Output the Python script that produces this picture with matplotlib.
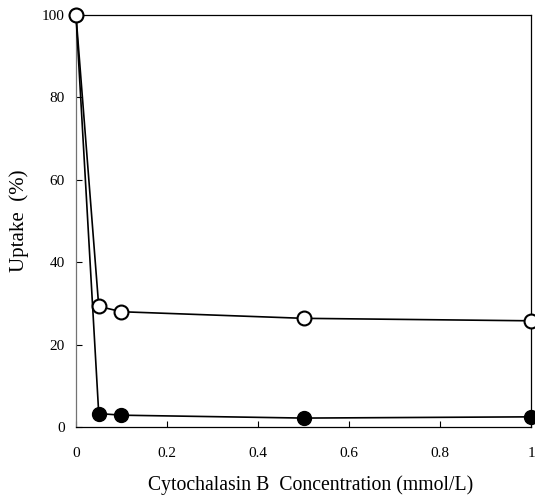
import numpy as np
import matplotlib.pyplot as plt

# === Data ===
conc = [0, 0.05, 0.1, 0.5, 1.0]          # mmol/L
uptake_open = [100, 29.3, 28.0, 26.4, 25.8]
uptake_filled = [100, 3.3, 2.9, 2.2, 2.5]

x_ticks = [0, 0.2, 0.4, 0.6, 0.8, 1]
x_ticklabels = ["0", "0.2", "0.4", "0.6", "0.8", "1"]
y_ticks = [0, 20, 40, 60, 80, 100]

plt.rcParams['font.family'] = ['Liberation Serif', 'DejaVu Serif']

fig = plt.figure(figsize=(5.35, 4.99), dpi=100)
ax = fig.add_axes([0.142, 0.144, 0.851, 0.826])

ax.plot(conc, uptake_filled, 'o-', color='k', lw=1.2, ms=10,
        mfc='k', mec='k', clip_on=False, zorder=3)
ax.plot(conc, uptake_open, 'o-', color='k', lw=1.2, ms=10,
        mfc='white', mec='k', mew=1.5, clip_on=False, zorder=4)

ax.set_xlim(0, 1)
ax.set_ylim(0, 100)
ax.set_xticks(x_ticks)
ax.set_xticklabels(x_ticklabels)
ax.set_yticks(y_ticks)
ax.tick_params(direction='in', length=4, width=0.8, labelsize=11)
ax.tick_params(axis='x', pad=14)
ax.tick_params(axis='y', pad=8)
for s in ax.spines.values():
    s.set_linewidth(0.9)
ax.spines['left'].set_color('0.45')

ax.set_xlabel('Cytochalasin B  Concentration (mmol/L)', fontsize=14.2)
ax.xaxis.set_label_coords(0.515, -0.117)
ax.set_ylabel('Uptake  (%)', fontsize=15, labelpad=9)

fig.savefig('out.png', dpi=100)
